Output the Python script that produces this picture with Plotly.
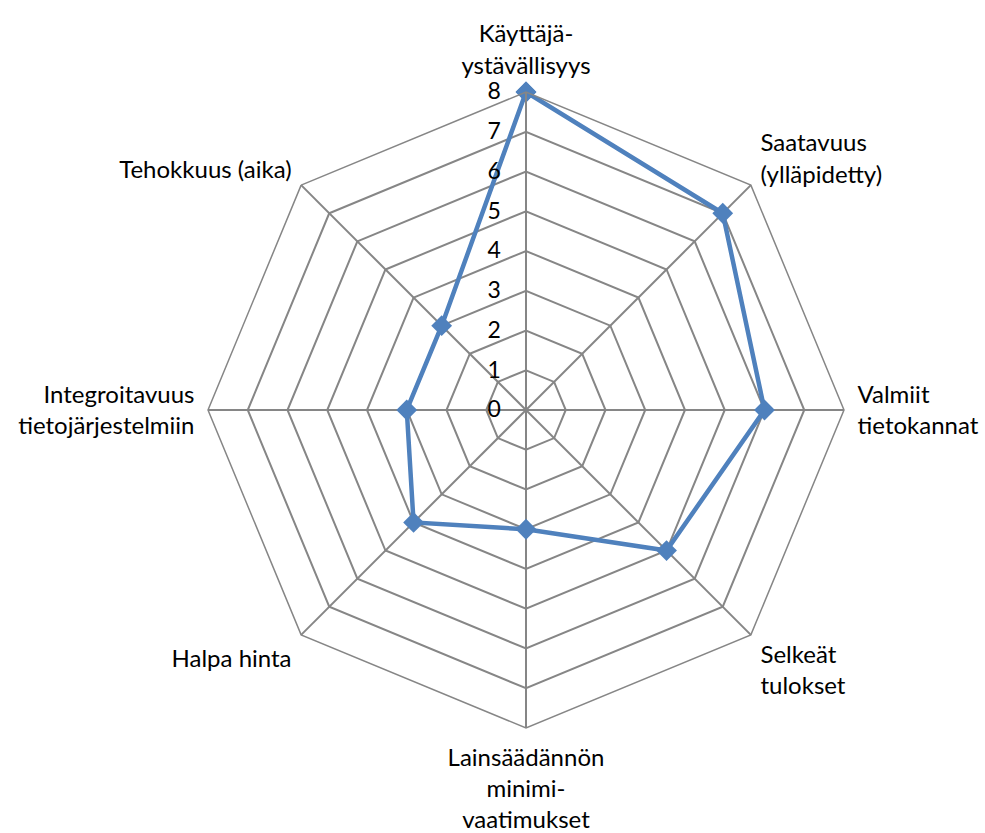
import plotly.graph_objects as go

categories = ["Käyttäjä-<br>ystävällisyys", "Saatavuus<br>(ylläpidetty)", "Valmiit<br>tietokannat",
              "Selkeät<br>tulokset", "Lainsäädännön<br>minimi-<br>vaatimukset", "Halpa hinta",
              "Integroitavuus<br>tietojärjestelmiin", "Tehokkuus (aika)"]
values = [8, 7, 6, 5, 3, 4, 3, 3]
radial_ticks = [0, 1, 2, 3, 4, 5, 6, 7, 8]

fig = go.Figure()
fig.add_trace(go.Scatterpolar(
    r=values + values[:1], theta=categories + categories[:1],
    mode="lines+markers",
    line=dict(color="#4F81BD", width=4.5),
    marker=dict(symbol="diamond", size=16, color="#4F81BD"),
    showlegend=False,
))

cx, cy, R = 526, 410, 318
W, H = 985, 833
fig.update_layout(
    width=W, height=H,
    margin=dict(l=0, r=0, t=0, b=0),
    paper_bgcolor="white",
    font=dict(family="Lato, Open Sans, sans-serif", size=24, color="black"),
    polar=dict(
        domain=dict(x=[(cx - R) / W, (cx + R) / W], y=[(H - cy - R) / H, (H - cy + R) / H]),
        gridshape="linear",
        bgcolor="white",
        radialaxis=dict(range=[0, 8], tickvals=radial_ticks, angle=90, tickangle=90,
                        side="counterclockwise", showline=True, linecolor="#868686", linewidth=2,
                        gridcolor="#868686", gridwidth=1.5, ticks="outside", ticklen=16,
                        tickcolor="rgba(0,0,0,0)", tickfont=dict(size=23)),
        angularaxis=dict(direction="clockwise", rotation=90, showline=True,
                         linecolor="#868686", linewidth=1.5, gridcolor="#868686", gridwidth=1.5,
                         ticks="outside", ticklen=8, tickcolor="rgba(0,0,0,0)",
                         tickfont=dict(size=24)),
    ),
)
fig.write_html("out.html", config={"displayModeBar": False},
               post_script="document.body.style.margin='0';")
